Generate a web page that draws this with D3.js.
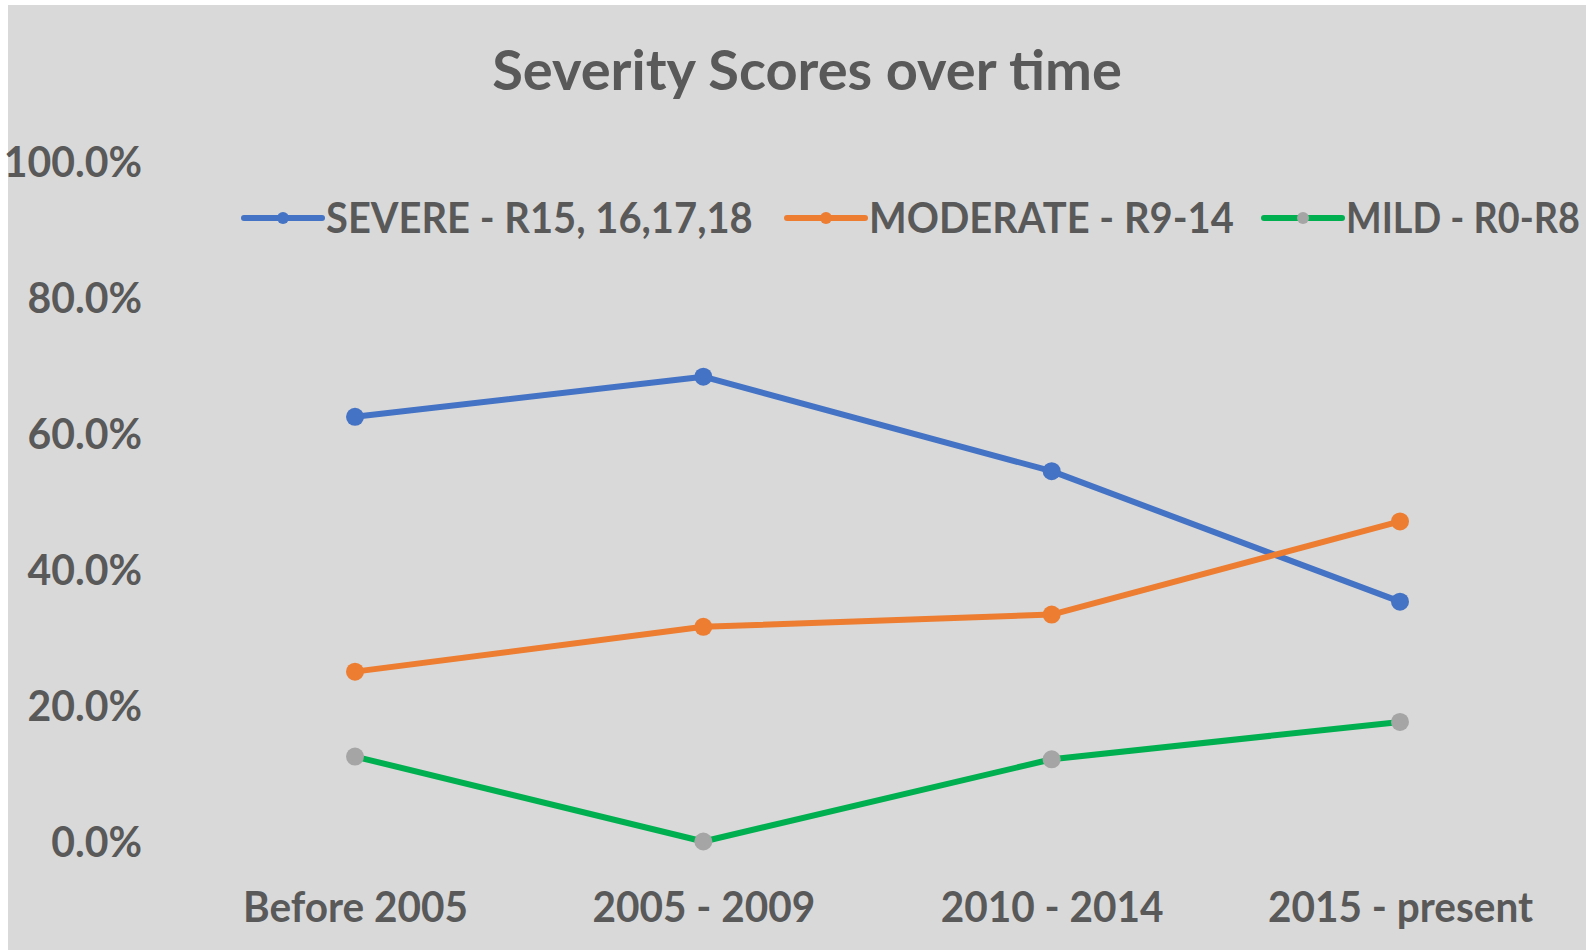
<!DOCTYPE html>
<html>
<head>
<meta charset="utf-8">
<script src="https://cdn.jsdelivr.net/npm/d3@7"></script>
<style>
  html, body { margin: 0; padding: 0; background: #fff; }
  svg { display: block; }
</style>
</head>
<body>
<div id="container"></div>
<script>
const categories = ["Before 2005", "2005 - 2009", "2010 - 2014", "2015 - present"];
const seriesNames = ["SEVERE - R15, 16,17,18", "MODERATE - R9-14", "MILD - R0-R8"];
const severe = [0.625, 0.684, 0.545, 0.353];
const moderate = [0.250, 0.316, 0.334, 0.471];
const mild = [0.125, 0.000, 0.121, 0.176];
const yTicks = [0, 0.2, 0.4, 0.6, 0.8, 1.0];

const chart = () => {
  const width = 1586;
  const height = 952;
  const font = "Lato, 'Liberation Sans', sans-serif";
  const textColor = "#595959";

  const series = [
    { name: seriesNames[0], values: severe, line: "#4472C4", marker: "#4472C4" },
    { name: seriesNames[1], values: moderate, line: "#ED7D31", marker: "#ED7D31" },
    { name: seriesNames[2], values: mild, line: "#00B050", marker: "#A5A5A5" }
  ];

  // squeeze text horizontally (narrow Calibri-like look); keep it left of maxRight
  const squeeze = (sel, factor, maxRight) => sel.each(function() {
    const w = this.getComputedTextLength();
    const x0 = +this.getAttribute("x") || 0;
    let f = factor;
    if (maxRight !== undefined) {
      const ctm = this.parentNode.getCTM();
      const left = (ctm ? ctm.e : 0) + x0;
      f = Math.min(f, (maxRight - left) / w);
    }
    d3.select(this)
      .attr("x", 0)
      .attr("transform", `translate(${x0},0) scale(${f},1)`);
  });

  const x = d3.scalePoint()
    .domain(categories)
    .range([355, 1400]);

  const y = d3.scaleLinear()
    .domain([0, 1])
    .range([841.5, 162]);

  const svg = d3.create("svg")
    .attr("width", width)
    .attr("height", height)
    .attr("viewBox", [0, 0, width, height]);

  document.getElementById("container").appendChild(svg.node());

  svg.append("rect")
    .attr("x", 8)
    .attr("y", 5)
    .attr("width", width - 8)
    .attr("height", height - 7)
    .attr("fill", "#D9D9D9");

  svg.append("text")
    .attr("x", 807)
    .attr("y", 68)
    .attr("text-anchor", "middle")
    .attr("dominant-baseline", "central")
    .attr("font-family", font)
    .attr("font-size", 56)
    .attr("font-weight", "bold")
    .attr("fill", textColor)
    .text("Severity Scores over time");

  // y axis labels (no line, no gridlines)
  const yAxis = d3.axisLeft(y)
    .tickValues(yTicks)
    .tickFormat(d3.format(".1%"))
    .tickSize(0)
    .tickPadding(0);

  svg.append("g")
    .attr("transform", "translate(142,0)")
    .call(yAxis)
    .call(g => g.select(".domain").remove())
    .call(g => g.selectAll("text")
      .attr("font-family", font)
      .attr("font-size", 42)
      .attr("font-weight", "bold")
      .attr("fill", textColor)
      .attr("dy", "0.35em")
      .call(squeeze, 0.975));

  const xAxis = d3.axisBottom(x)
    .tickSize(0)
    .tickPadding(0);

  svg.append("g")
    .attr("transform", "translate(0,907)")
    .call(xAxis)
    .call(g => g.select(".domain").remove())
    .call(g => g.selectAll("text")
      .attr("font-family", font)
      .attr("font-size", 42)
      .attr("font-weight", "bold")
      .attr("fill", textColor)
      .attr("dy", "0.35em")
      .call(squeeze, 0.965));

  const line = d3.line()
    .x((d, i) => x(categories[i]))
    .y(d => y(d));

  const g = svg.append("g");
  series.forEach(s => {
    g.append("path")
      .attr("d", line(s.values))
      .attr("fill", "none")
      .attr("stroke", s.line)
      .attr("stroke-width", 6)
      .attr("stroke-linejoin", "round")
      .attr("stroke-linecap", "round");
    g.selectAll(null)
      .data(s.values)
      .join("circle")
      .attr("cx", (d, i) => x(categories[i]))
      .attr("cy", d => y(d))
      .attr("r", 9)
      .attr("fill", s.marker);
  });

  // legend
  const legendX = [244, 787, 1264];
  const legend = svg.append("g").attr("transform", "translate(0,218)");
  series.forEach((s, i) => {
    const lg = legend.append("g").attr("transform", `translate(${legendX[i]},0)`);
    lg.append("line")
      .attr("x1", 0).attr("x2", 78)
      .attr("stroke", s.line)
      .attr("stroke-width", 6)
      .attr("stroke-linecap", "round");
    lg.append("circle")
      .attr("cx", 39)
      .attr("r", 6)
      .attr("fill", s.marker);
    lg.append("text")
      .attr("x", 82)
      .attr("dy", "0.35em")
      .attr("font-family", font)
      .attr("font-size", 42)
      .attr("font-weight", "bold")
      .attr("fill", textColor)
      .text(s.name)
      .call(squeeze, 0.95, width - 6);
  });

  return svg.node();
};

chart();
</script>
</body>
</html>
